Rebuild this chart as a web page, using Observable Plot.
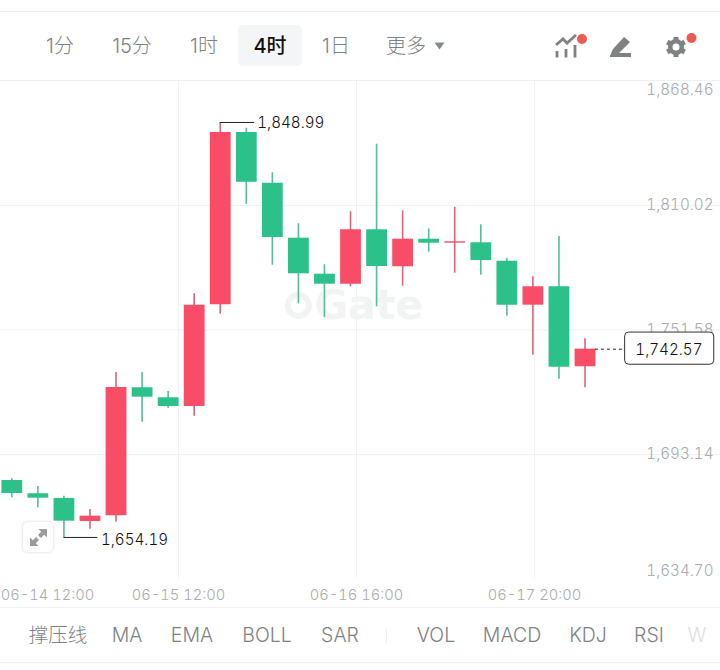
<!DOCTYPE html>
<html><head><meta charset="utf-8">
<script src="https://cdn.jsdelivr.net/npm/d3@7"></script>
<script src="https://cdn.jsdelivr.net/npm/@observablehq/plot@0.6"></script>
<style>
html,body{margin:0;padding:0;background:#fff;width:720px;height:670px;overflow:hidden;font-family:Inter,"Noto Sans CJK SC",sans-serif}
#wrap{position:relative;width:720px;height:670px}
.abs{position:absolute}
#topbar{left:0;top:11px;width:720px;height:68px;border-top:1px solid #eeeff0;border-bottom:1px solid #eeeff0}
.tf{position:absolute;top:22px;transform:translateX(-50%);font-size:20px;font-weight:300;line-height:24px;color:#7e8184;white-space:nowrap}
#active{position:absolute;left:238px;top:13px;width:64px;height:41px;background:#f4f5f7;border-radius:5px}
#chart{left:0;top:81px}
#bottom{left:0;top:607px;width:720px;height:54px;border-top:1px solid #f1f2f3;border-bottom:1px solid #f1f2f3}
.ind{position:absolute;top:15px;transform:translateX(-50%);font-size:19.5px;font-weight:300;line-height:24px;color:#7e8184;white-space:nowrap}
#expand{left:22px;top:521px;width:30px;height:30px;border:1px solid #f0f0f0;border-radius:6px;background:#fff;box-shadow:0 0 3px #eee}
</style></head><body>
<div id="wrap">
<div id="topbar" class="abs"></div>
<div id="chart" class="abs"></div>
<div id="bottom" class="abs"></div>
<svg id="expand" class="abs" viewBox="0 0 30 30"><g fill="#9a9c9e"><path d="M7 24V15.500L9.800 18.300 13 15 16 18 12.800 21.200 15.500 24Z"/><path d="M24 7V15.500L21.200 12.700 18 16 15 13 18.200 9.800 15.500 7Z"/></g></svg>
<svg class="abs" style="left:552px;top:32px" width="36" height="28" viewBox="0 0 36 28"><g fill="none" stroke="#7f8183" stroke-width="2.800"><path d="M4 13L11 7 15 11 24 3"/><path d="M5 25.500V19M14 25.500V17M23 25.500V13"/></g><circle cx="30" cy="7" r="5" fill="#ee5a4f"/></svg>
<svg class="abs" style="left:608px;top:33px" width="26" height="26" viewBox="0 0 26 26"><path d="M2 23L5 16 16 4 22 9 11 20H23V24H2Z" fill="#7f8183"/></svg>
<svg class="abs" style="left:662px;top:30px" width="36" height="30" viewBox="0 0 36 30"><g stroke="#7f8183" stroke-width="5"><path d="M14 7V27M5.340 12L22.660 22M5.340 22L22.660 12"/></g><circle cx="14" cy="17" r="8" fill="#7f8183"/><circle cx="14" cy="17" r="3.500" fill="#fff"/><circle cx="29.500" cy="8" r="5" fill="#ee5a4f"/></svg>
<svg class="abs" style="left:434px;top:42px" width="12" height="8"><path d="M0.500 0.500H10.500L5.500 7.500Z" fill="#86898c"/></svg>
</div>
<script>
// Candle values (USDT); index = candle position
const opens  = [1680.93,1674.69,1672.49,1661.69,1664.37,1724.45,1719.75,1715.67,1763.41,1844.29,1820.49,1794.67,1777.77,1773.08,1798.61,1781.25,1794.20,1792.32,1792.51,1783.87,1763.22,1771.86,1734.31];
const closes = [1674.83,1672.63,1661.83,1664.18,1724.59,1720.04,1715.67,1763.22,1844.29,1820.96,1795.00,1777.96,1773.08,1798.61,1781.39,1794.20,1792.32,1792.98,1784.20,1763.22,1771.86,1734.12,1742.57];
const highs  = [1681.73,1678.12,1673.56,1667.32,1731.63,1731.63,1722.71,1768.57,1848.99,1846.30,1825.37,1801.43,1782.18,1807.06,1838.79,1807.53,1799.08,1809.22,1800.96,1785.14,1776.55,1795.47,1747.45];
const lows   = [1672.81,1668.12,1654.19,1658.08,1661.36,1708.30,1714.87,1711.12,1759.00,1810.63,1782.00,1763.88,1757.45,1771.86,1762.47,1772.14,1788.10,1778.24,1777.30,1758.06,1739.75,1728.49,1724.45];
const priceTicks = [1868.46,1810.02,1751.58,1693.14,1634.70];
const priceLabelShift = [9,0,0,0,-8];
const timeLabels = ["06-14 12:00","06-15 12:00","06-16 16:00","06-17 20:00"];
const timePositions = [1.37,6.4,13.23,20.06];
const timeframes = ["1分","15分","1时","4时","1日","更多"];
const timeframeCenters = [60,132,204,270,336,406];
const indicators = ["撑压线","MA","EMA","BOLL","SAR","VOL","MACD","KDJ","RSI","W"];
const indicatorCenters = [58,127,192,267,340,436,512,588,649,697];
const RED="#f94c66", GREEN="#2cc08a", REDW="#d9647c", GREENW="#54bd98";

const candles = opens.map((o,i)=>({i,o,c:closes[i],h:highs[i],l:lows[i],up:closes[i]>=o}));
const fmt = d3.format(",.2f");
const last = candles[candles.length-1];
const hiC = candles[d3.maxIndex(candles,d=>d.h)];
const loC = candles[d3.minIndex(candles,d=>d.l)];

const topbar=document.getElementById("topbar");
topbar.insertAdjacentHTML("beforeend",'<div id="active"></div>');
timeframes.forEach((t,k)=>{const e=document.createElement("div");e.className="tf";e.textContent=t;e.style.left=timeframeCenters[k]+"px";if(t==="4时"){e.style.color="#111";e.style.fontWeight="500";}topbar.appendChild(e);});
const bottom=document.getElementById("bottom");
indicators.forEach((t,k)=>{const e=document.createElement("div");e.className="ind";e.textContent=t;e.style.left=indicatorCenters[k]+"px";if(t==="W")e.style.opacity=.25;bottom.appendChild(e);});
bottom.insertAdjacentHTML("beforeend",'<div style="position:absolute;left:386px;top:20px;width:1px;height:16px;background:#eee"></div>');

const grid="#f1f2f3", labelGray="#a9abad", wm="#f2f4f3";
const priceLabel=(shift)=>Plot.text(priceTicks.filter((_,k)=>priceLabelShift[k]===shift),{x:()=>26.93,y:d=>d,text:d=>fmt(d),textAnchor:"end",fontSize:15.2,fontWeight:300,fill:labelGray,dy:shift});
const chart = Plot.plot({
  width:720,height:526,margin:0,
  style:{fontFamily:"Inter,sans-serif",fontVariantNumeric:"tabular-nums"},
  x:{domain:[-0.434,27.2],axis:null},
  y:{domain:[1621.3,1868.23],axis:null},
  marks:[
    Plot.ruleY(priceTicks.slice(1,4),{stroke:grid,strokeWidth:1}),
    Plot.ruleX(timePositions.slice(1),{y1:1634.7,y2:1868.23,stroke:grid,strokeWidth:1}),
    Plot.dot([0],{x:()=>11.0,y:()=>1763.1,r:10.5,stroke:wm,strokeWidth:6,fill:"none"}),
    Plot.dot([0],{x:()=>11.5,y:()=>1769.5,r:5,fill:"#fff"}),
    Plot.text(["Gate"],{x:()=>13.7,y:()=>1763.1,text:d=>d,fontSize:41,fontWeight:700,fontFamily:"DejaVu Sans",fill:wm,textAnchor:"middle"}),
    Plot.ruleX(candles,{x:"i",y1:"l",y2:"h",stroke:d=>d.up?REDW:GREENW,strokeWidth:1.6}),
    Plot.ruleX(candles,{x:"i",y1:"o",y2:"c",stroke:d=>d.up?RED:GREEN,strokeWidth:20.8}),
    Plot.ruleY([hiC],{y:"h",x1:"i",x2:d=>d.i+1.32,stroke:"#222",strokeWidth:1}),
    Plot.ruleY([loC],{y:"l",x1:"i",x2:d=>d.i+1.3,stroke:"#222",strokeWidth:1}),
    Plot.text([hiC],{x:d=>d.i+1.42,y:"h",text:d=>fmt(d.h),textAnchor:"start",fontSize:15.2,fontWeight:300,fill:"#111",dy:1}),
    Plot.text([loC],{x:d=>d.i+1.42,y:"l",text:d=>fmt(d.l),textAnchor:"start",fontSize:15.2,fontWeight:300,fill:"#111",dy:3}),
    priceLabel(9),priceLabel(0),priceLabel(-8),
    Plot.ruleY([last],{y:"c",x1:d=>d.i+0.4,x2:()=>23.5,stroke:"#222",strokeWidth:1,strokeDasharray:"3 3"}),
    Plot.rect([last],{x1:()=>23.54,x2:()=>26.96,y1:d=>d.c-7.3,y2:d=>d.c+7.8,fill:"#fff",stroke:"#333",strokeWidth:1,rx:4}),
    Plot.text([last],{x:()=>25.22,y:"c",text:d=>fmt(d.c),fontSize:15.2,fontWeight:300,fill:"#111",dy:1}),
    Plot.text(timeLabels,{x:timePositions,y:()=>1627,text:d=>d,textAnchor:"middle",fontSize:14.7,fontWeight:300,fill:labelGray})
  ]
});
document.getElementById("chart").appendChild(chart);
</script>
</body></html>
